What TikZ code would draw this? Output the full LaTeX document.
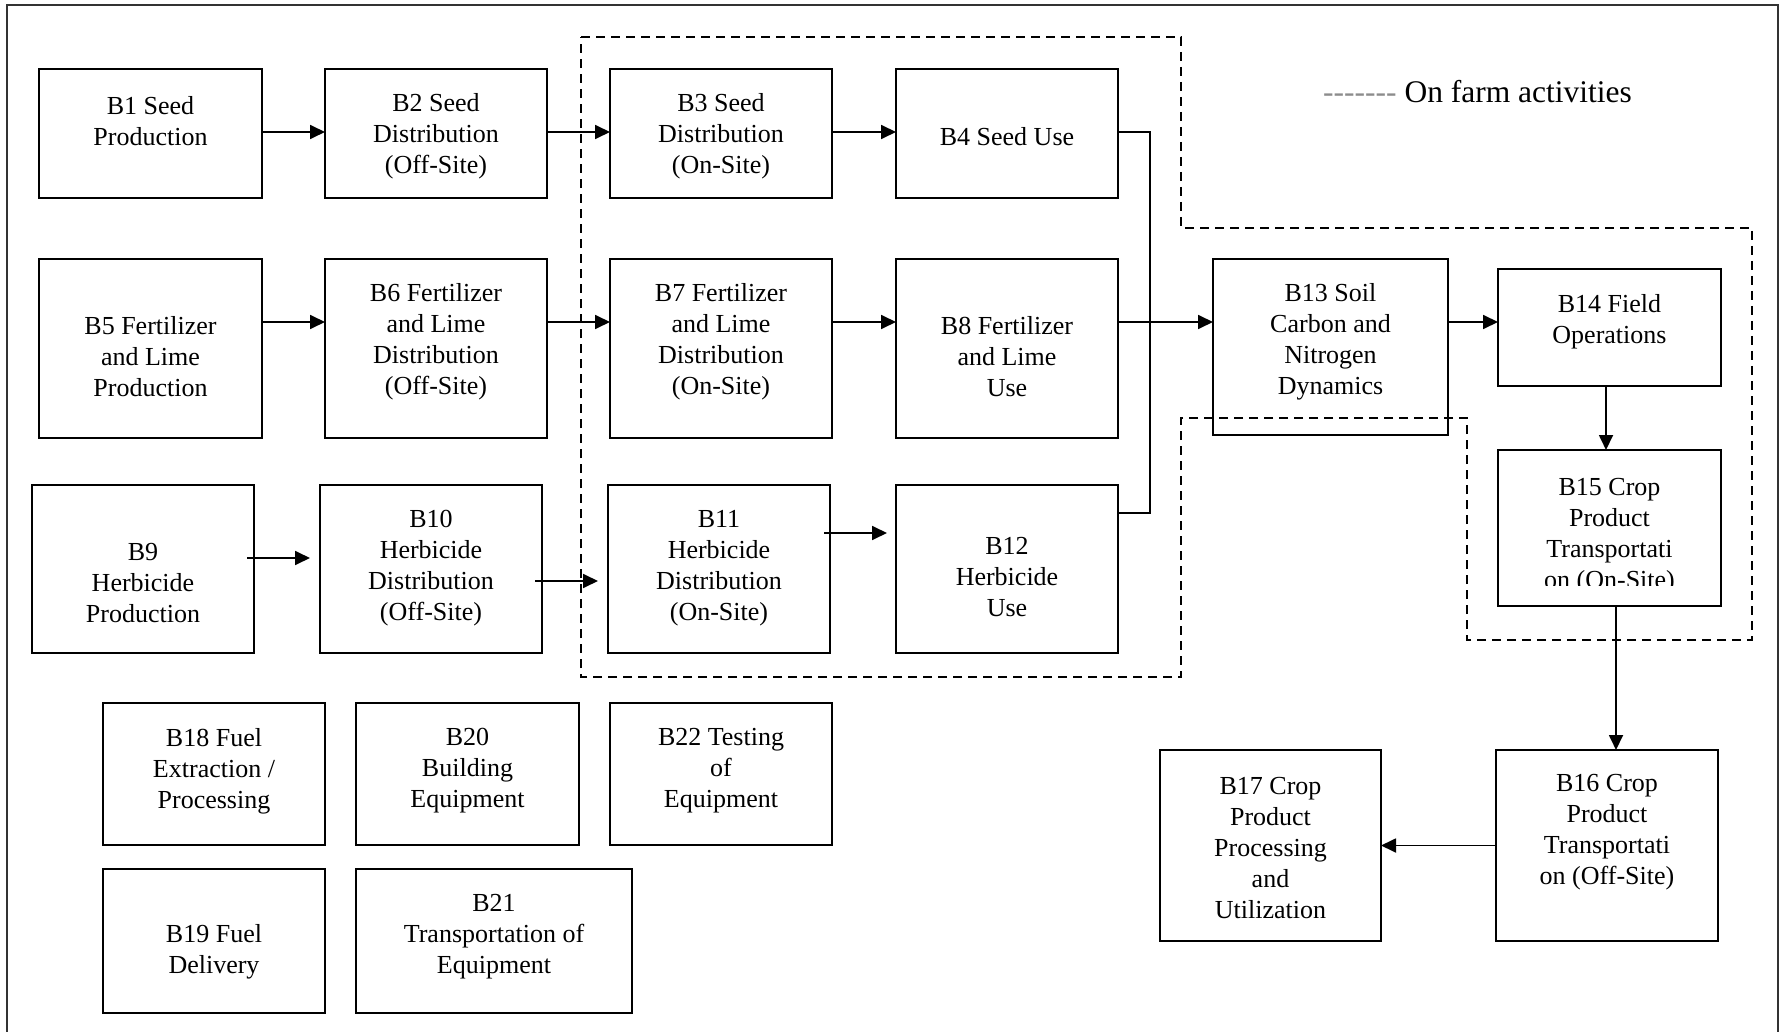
\documentclass[tikz,border=0pt]{standalone}
\usepackage{fontspec}
\setmainfont{Liberation Serif}
\usetikzlibrary{arrows.meta,fit,calc}

% #1 name, #2-#5 corners, #6 vertical centre of the text, #7 text
\newcommand\blockbox[7]{%
  \node[box, fit={(#2,#3) (#4,#5)}] (#1) {};
  \node[txt] (#1t) at (#1.center |- 0,#6) {#7};
}

\begin{document}
\begin{tikzpicture}[x=1pt,y=-1pt,
  box/.style={draw,line width=1.8pt,inner sep=0pt,outer sep=0pt},
  txt/.style={align=center,inner sep=0pt,font=\fontsize{26}{31}\selectfont},
  link/.style={line width=1.8pt},
  arr/.style={link,-{Triangle[length=15pt,width=14pt]}},
  farm/.style={line width=1.6pt,dash pattern=on 9pt off 6pt}]
\useasboundingbox (0,0) rectangle (1786,1032);
\fill[white] (0,0) rectangle (1786,1032);

% outer frame
\draw[line width=1.5pt,black!80] (7,1032) -- (7,5) -- (1778,5) -- (1778,1032);

% on-farm region
\draw[farm] (581,37) -- (1181,37) -- (1181,228) -- (1752,228) -- (1752,640)
  -- (1467,640) -- (1467,418) -- (1181,418) -- (1181,677) -- (581,677) -- cycle;

% legend (braces keep the hyphens from forming dashes)
\node[anchor=base west,inner sep=0pt,font=\fontsize{31.5}{36}\selectfont] (legend)
  at (1323,103) {{\color{black!45}{-}{-}{-}{-}{-}{-}{-}} On farm activities};

% row 1
\blockbox{b1}{39}{69}{262}{198}{121}{B1 Seed\\Production}
\blockbox{b2}{325}{69}{547}{198}{136}{B2 Seed\\Distribution\\(Off-Site)}
\blockbox{b3}{610}{69}{832}{198}{136}{B3 Seed\\Distribution\\(On-Site)}
\blockbox{b4}{896}{69}{1118}{198}{137}{B4 Seed Use}

% row 2
\blockbox{b5}{39}{259}{262}{438}{357}{B5 Fertilizer\\and Lime\\Production}
\blockbox{b6}{325}{259}{547}{438}{342}{B6 Fertilizer\\and Lime\\Distribution\\(Off-Site)}
\blockbox{b7}{610}{259}{832}{438}{342}{B7 Fertilizer\\and Lime\\Distribution\\(On-Site)}
\blockbox{b8}{896}{259}{1118}{438}{357}{B8 Fertilizer\\and Lime\\Use}
\blockbox{b13}{1213}{259}{1448}{435}{342}{B13 Soil\\Carbon and\\Nitrogen\\Dynamics}
\blockbox{b14}{1498}{269}{1721}{386}{322}{B14 Field\\Operations}

% row 3
\blockbox{b9}{32}{485}{254}{653}{583}{B9\\Herbicide\\Production}
\blockbox{b10}{320}{485}{542}{653}{568}{B10\\Herbicide\\Distribution\\(Off-Site)}
\blockbox{b11}{608}{485}{830}{653}{568}{B11\\Herbicide\\Distribution\\(On-Site)}
\blockbox{b12}{896}{485}{1118}{653}{577}{B12\\Herbicide\\Use}

% crop product chain (the text of B15 overflows its frame and is cut off)
\node[box, fit={(1498,450) (1721,606)}] (b15) {};
\begin{scope}
  \clip (1498,450) rectangle (1721,585);
  \node[txt] (b15t) at (b15.center |- 0,536) {B15 Crop\\Product\\Transportati\\on (On-Site)};
\end{scope}
\blockbox{b16}{1496}{750}{1718}{941}{832}{B16 Crop\\Product\\Transportati\\on (Off-Site)}
\blockbox{b17}{1160}{750}{1381}{941}{848}{B17 Crop\\Product\\Processing\\and\\Utilization}

% supporting activities
\blockbox{b18}{103}{703}{325}{845}{771}{B18 Fuel\\Extraction /\\Processing}
\blockbox{b20}{356}{703}{579}{845}{771}{B20\\Building\\Equipment}
\blockbox{b22}{610}{703}{832}{845}{771}{B22 Testing\\of\\Equipment}
\blockbox{b19}{103}{869}{325}{1013}{952}{B19 Fuel\\Delivery}
\blockbox{b21}{356}{869}{632}{1013}{937}{B21\\Transportation of\\Equipment}

% connector levels
\coordinate (r1) at (0,132);
\coordinate (r2) at (0,322);
\coordinate (jt) at (1150,132);
\coordinate (jb) at (1150,513);
\coordinate (c16) at (1616,0);

% row 1 flow
\draw[arr] (b1.east |- r1) -- (b2.west |- r1);
\draw[arr] (b2.east |- r1) -- (b3.west |- r1);
\draw[arr] (b3.east |- r1) -- (b4.west |- r1);

% row 2 flow
\draw[arr] (b5.east |- r2) -- (b6.west |- r2);
\draw[arr] (b6.east |- r2) -- (b7.west |- r2);
\draw[arr] (b7.east |- r2) -- (b8.west |- r2);
\draw[arr] (b8.east |- r2) -- (b13.west |- r2);
\draw[arr] (b13.east |- r2) -- (b14.west |- r2);

% collector from seed use and herbicide use
\draw[link] (b4.east |- r1) -- (jt) -- (jb) -- (b12.east |- jb);

% row 3 flow
\draw[arr] ([xshift=-7pt]b9.east |- 0,558) -- ([xshift=-10pt]b10.west |- 0,558);
\draw[arr] ([xshift=-7pt]b10.east |- 0,581) -- ([xshift=-10pt]b11.west |- 0,581);
\draw[arr] ([xshift=-6pt]b11.east |- 0,533) -- ([xshift=-9pt]b12.west |- 0,533);

% crop product flow
\draw[arr] (b14.south -| 1606,0) -- (b15.north -| 1606,0);
\draw[arr] (b15.south -| c16) -- (b16.north -| c16);
\draw[arr] (b16.west) -- (b17.east);
\end{tikzpicture}
\end{document}
